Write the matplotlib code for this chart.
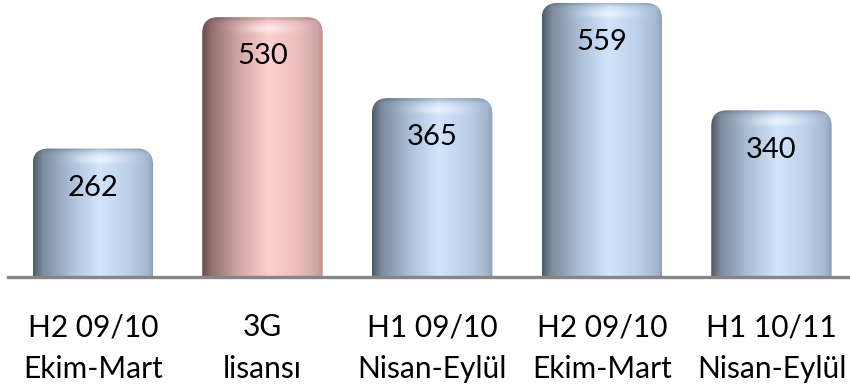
import numpy as np
import matplotlib
matplotlib.use('Agg')
import matplotlib.pyplot as plt
from matplotlib.patches import FancyBboxPatch
from matplotlib.colors import to_rgb

categories = ['H2 09/10\nEkim-Mart', '3G\nlisansı', 'H1 09/10\nNisan-Eylül',
              'H2 09/10\nEkim-Mart', 'H1 10/11\nNisan-Eylül']
values = [262, 530, 365, 559, 340]
is_license = [False, True, False, False, False]

plt.rcParams['font.family'] = ['Lato', 'DejaVu Sans']

# horizontal colour stops of the cylinder shading (position, colour)
blue_stops = [(0.0, '#4e5a68'), (0.08, '#7d8c9e'), (0.3, '#aabdd4'),
              (0.55, '#d2e5fc'), (0.8, '#bccfe8'), (0.95, '#a4b7ce'), (1.0, '#8e9fb4')]
pink_stops = [(0.0, '#6a4c4c'), (0.08, '#946f6f'), (0.3, '#d0a5a5'),
              (0.55, '#ffd0d0'), (0.8, '#ecbcbc'), (0.95, '#cfa6a6'), (1.0, '#b89393')]


def shade_image(stops, ncols, nrows, px_h):
    pos = [s[0] for s in stops]
    cols = np.array([to_rgb(s[1]) for s in stops])
    t = np.linspace(0, 1, ncols)
    row = np.stack([np.interp(t, pos, cols[:, k]) for k in range(3)], axis=-1)
    img = np.repeat(row[None, :, :], nrows, axis=0)
    d = np.linspace(0, px_h, nrows)[:, None]  # pixels from top
    # darker rim at the very top of the cap
    rim = 0.18 * np.exp(-(d / 3.0) ** 2)
    img = img * (1 - rim[..., None])
    # bright band under the cap
    hl = 0.55 * np.exp(-((d - 11) / 4.0) ** 2) * np.exp(-((t[None, :] - 0.55) / 0.2) ** 2)
    img = img + (1 - img) * hl[..., None]
    return np.clip(img, 0, 1)


fig = plt.figure(figsize=(8.5, 3.88), dpi=100)
ax = fig.add_axes([8 / 850, 111 / 388, 842 / 850, 277 / 388])
ax.set_xlim(-0.5, 4.463)
ax.set_ylim(0, 565)

x = np.arange(len(values))
bars = ax.bar(x, values, width=0.71, color='none', edgecolor='none')

# pixel <-> data scales
px_per_x = 842 / (4.463 + 0.5)
px_per_y = 277 / 565
rx = 16 / px_per_x
ry = 16 / px_per_y

for bar, lic, v in zip(bars, is_license, values):
    x0, w, h = bar.get_x(), bar.get_width(), bar.get_height()
    clip = FancyBboxPatch((x0, -3 * ry), w, h + 3 * ry,
                          boxstyle='round,pad=0,rounding_size={}'.format(rx),
                          mutation_aspect=ry / rx,
                          facecolor='none', edgecolor='none')
    ax.add_patch(clip)
    px_h = h * px_per_y
    img = shade_image(pink_stops if lic else blue_stops, 200, int(px_h) + 1, px_h)
    im = ax.imshow(img, extent=(x0, x0 + w, 0, h), aspect='auto',
                   interpolation='bilinear', origin='upper', zorder=2)
    im.set_clip_path(clip)
    ax.text(bar.get_x() + w / 2, v - 80, str(v), ha='center', va='center',
            fontsize=21, color='black', zorder=3)

ax.set_xlim(-0.5, 4.463)
ax.set_ylim(0, 565)

ax.axhline(0, color='#868686', linewidth=2.4, clip_on=False, zorder=4)

for s in ax.spines.values():
    s.set_visible(False)
ax.set_yticks([])
ax.set_xticks(x)
ax.set_xticklabels(categories, fontsize=21.5, linespacing=1.6)
ax.tick_params(axis='x', length=0, pad=26)

fig.savefig('out.png', dpi=100)
